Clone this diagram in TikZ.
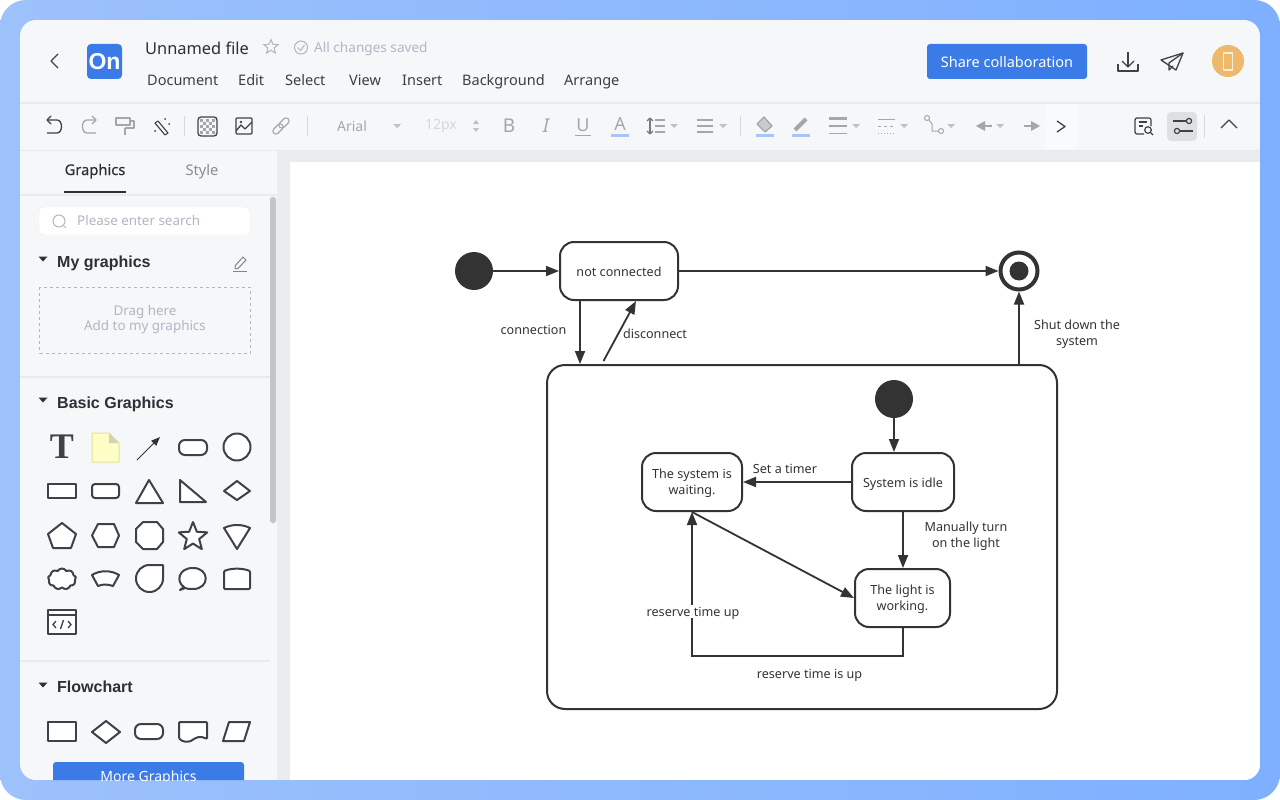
\documentclass[tikz,border=0pt]{standalone}
\usepackage{fontspec}
\setmainfont{Noto Sans}
\newfontfamily\serifbold{Liberation Serif}
\newfontfamily\headfont{Liberation Sans}
\newfontfamily\medfont{Noto Sans}[FakeBold=0.4]
\usetikzlibrary{arrows.meta,shapes.geometric,shapes.symbols}
\tikzset{
    statebox/.style={draw=cl_ink,line width=2pt,fill=white,rounded corners=14pt,align=center,text=cl_ink,font=\fontsize{12.6}{16}\selectfont,inner sep=0pt,text height=11pt,text depth=0pt},
    startdot/.style={circle,fill=cl_ink,minimum size=38pt,inner sep=0pt},
    arr/.style={-{Triangle[length=13pt,width=10pt]},line width=1.8pt,draw=cl_ink},
    edgelabel/.style={align=center,text=cl_ink,font=\fontsize{12.6}{16}\selectfont,inner sep=1pt,text height=11pt,text depth=0pt},
    twolines/.style={text height=25.5pt,text depth=0pt},
    menuitem/.style={anchor=base west,text=cl_menu,font=\fontsize{14.5}{17}\selectfont,inner sep=0pt},
    heading/.style={anchor=base west,text=cl_head,font=\fontsize{16}{18}\selectfont\headfont\bfseries,inner sep=0pt},
    hint/.style={text=cl_hint,font=\fontsize{13.4}{16}\selectfont,inner sep=0pt},
    darkicon/.style={draw=cl_icon,line width=1.3pt,line join=round},
    greyicon/.style={draw=cl_grey,line width=1.3pt,line join=round},
    palette/.style={draw=cl_icon,line width=2pt,fill=white,line join=round},
    sideline/.style={draw=cl_edge,line width=1.5pt},
    toolsep/.style={draw=cl_canvas!92!black,line width=1pt},
}
\begin{document}
\begin{tikzpicture}[x=1pt,y=-1pt]
            \definecolor{cl_ink}{HTML}{333333}
            \definecolor{cl_menu}{HTML}{3A3F47}
            \definecolor{cl_head}{HTML}{2B2F36}
            \definecolor{cl_hint}{HTML}{B0B6C3}
            \definecolor{cl_icon}{HTML}{3D4249}
            \definecolor{cl_grey}{HTML}{A3A6AB}
            \definecolor{cl_edge}{HTML}{E9EAED}
            \definecolor{cl_panel}{HTML}{F6F7F9}
            \definecolor{cl_canvas}{HTML}{EBECEE}
            \definecolor{cl_blue}{HTML}{3B7BE8}
            \definecolor{cl_bar}{HTML}{A9C4F5}
            \definecolor{cl_left}{HTML}{9DC1FB}
            \definecolor{cl_right}{HTML}{7EB0FF}
            \definecolor{cl_avatar}{HTML}{EDB96A}
            \useasboundingbox (0,0) rectangle (1280,800);
            \fill[white] (0,0) rectangle (1280,800);
            \shade[left color=cl_left,right color=cl_right,rounded corners=26pt] (0,0) rectangle (1280,800);
            \begin{scope}
            \clip[rounded corners=16pt] (20,20) rectangle (1260,780);
            \fill[cl_panel] (20,20) rectangle (1260,780);
            \fill[cl_canvas] (277,150) rectangle (1260,780);
            \fill[white] (290,162) rectangle (1260,780);
            \draw[sideline] (20,103) -- (1260,103);
            \draw[sideline] (20,150.5) -- (1260,150.5);

            \draw[darkicon] (58,54) -- (51,61) -- (58,68);
            \fill[cl_blue,rounded corners=4pt] (87,44) rectangle (122,79);
            \node[text=white,font=\fontsize{23}{26}\selectfont\headfont\bfseries,inner sep=0pt] (logo) at (104.5,62) {On};
            \node[anchor=base west,text=cl_head,font=\fontsize{16.4}{18}\selectfont,inner sep=0pt] (title) at (145,54.5) {Unnamed file};
            \node[star,star points=5,star point ratio=2.3,draw=cl_hint,line width=1pt,minimum size=15pt,inner sep=0pt] (favstar) at (271,47) {};
            \draw[draw=cl_hint,line width=1pt] (301,47.5) circle (6.5pt);
            \draw[draw=cl_hint,line width=1pt] (297.5,47.5) -- (300.5,50.5) -- (304.5,45);
            \node[hint,anchor=base west,font=\fontsize{13.6}{16}\selectfont] (saved) at (314,52.5) {All changes saved};
            \node[menuitem] (mdoc) at (147,85) {Document};
            \node[menuitem] (medit) at (238,85) {Edit};
            \node[menuitem] (mselect) at (285,85) {Select};
            \node[menuitem] (mview) at (349,85) {View};
            \node[menuitem] (minsert) at (402,85) {Insert};
            \node[menuitem] (mback) at (462,85) {Background};
            \node[menuitem] (marrange) at (564,85) {Arrange};

            \fill[cl_blue,rounded corners=3pt] (927,44) rectangle (1087,79);
            \node[text=white,font=\fontsize{14.5}{17}\selectfont,inner sep=0pt] (share) at (1007,62) {Share collaboration};
            \draw[darkicon] (1128,52) -- (1128,67);
            \draw[darkicon] (1122,61) -- (1128,67) -- (1134,61);
            \draw[darkicon] (1118,64) -- (1118,71) -- (1138,71) -- (1138,64);
            \draw[darkicon] (1161,60) -- (1183,53) -- (1176,70) -- cycle;
            \draw[darkicon] (1183,53) -- (1169,63) -- (1169,70) -- (1173,66);
            \fill[cl_avatar] (1228,61) circle (16pt);
            \draw[draw=white!75!cl_avatar,line width=1.2pt] (1223.5,53) rectangle (1232.5,70);

            \draw[darkicon] (47,120) -- (57,120) .. controls (63,120) and (63,133) .. (57,133) -- (47,133);
            \draw[darkicon] (51,116) -- (47,120) -- (51,124);
            \draw[greyicon] (96,120) -- (87,120) .. controls (81,120) and (81,133) .. (87,133) -- (96,133);
            \draw[greyicon] (92,116) -- (96,120) -- (92,124);
            \draw[greyicon] (116,118) rectangle (130,125);
            \draw[greyicon] (130,121) -- (134,121) -- (134,128) -- (125,128);
            \draw[draw=cl_grey,line width=2.5pt] (125,128) -- (125,135);
            \draw[darkicon,line width=1.1pt] (158,121) -- (168,133) -- (165,135) -- (155,123) -- cycle;
            \fill[cl_icon] (165,119) circle (1pt);
            \fill[cl_icon] (169,124) circle (1pt);
            \fill[cl_icon] (155,131) circle (1pt);
            \draw[toolsep] (184,116) -- (184,136);
            \foreach \i in {0,1,2,3,4}
                \foreach \j in {0,1,2,3,4} {
                    \pgfmathparse{int(mod(\i+\j,2))}
                    \ifnum\pgfmathresult=0
                        \fill[cl_grey] (200+3*\i,119+3*\j) rectangle +(3,3);
                    \fi
                }
            \draw[darkicon,rounded corners=3pt] (198,117) rectangle (217,136);
            \draw[darkicon,rounded corners=1pt] (236,118) rectangle (252,134);
            \draw[darkicon] (236,131) -- (241,125) -- (245,129) -- (252,122);
            \fill[cl_icon] (241,122) circle (1.3pt);
            \draw[greyicon,rounded corners=3pt,line width=1.1pt,rotate around={45:(278,129)}] (272,126) rectangle (284,132);
            \draw[greyicon,rounded corners=3pt,line width=1.1pt,rotate around={45:(284,123)}] (278,120) rectangle (290,126);
            \draw[toolsep] (307,116) -- (307,136);
            \node[text=cl_grey,font=\fontsize{14}{16}\selectfont,inner sep=0pt] (fontname) at (352,126) {Arial};
            \node[text=cl_hint!55!white,font=\fontsize{14}{16}\selectfont,inner sep=0pt] (fontsize) at (441,126) {12px};
            \foreach \x in {397,674,723,856,904,951,1000}
                \fill[cl_grey!70!white] (\x-4,124) -- (\x+4,124) -- (\x,128) -- cycle;
            \fill[cl_grey!70!white] (473,124) -- (479,124) -- (476,120) -- cycle;
            \fill[cl_grey!70!white] (473,128) -- (479,128) -- (476,132) -- cycle;
            \node[text=cl_grey,font=\fontsize{19}{20}\selectfont,inner sep=0pt] (bold) at (509,126) {B};
            \node[text=cl_grey,font=\fontsize{19}{20}\selectfont\itshape,inner sep=0pt] (italic) at (546,126) {I};
            \node[text=cl_grey,font=\fontsize{18}{20}\selectfont,inner sep=0pt] (under) at (583,125) {U};
            \draw[greyicon,line width=1pt] (575,135) -- (591,135);
            \node[text=cl_grey,font=\fontsize{18}{20}\selectfont,inner sep=0pt] (colour) at (620,124) {A};
            \fill[cl_bar] (611,134) rectangle (629,137);
            \draw[greyicon,line width=1.2pt,draw=cl_icon!70!white] (650,118) -- (650,134);
            \draw[greyicon,line width=1.2pt,draw=cl_icon!70!white] (647,121) -- (650,118) -- (653,121);
            \draw[greyicon,line width=1.2pt,draw=cl_icon!70!white] (647,131) -- (650,134) -- (653,131);
            \foreach \y in {120,126,132} {
                \draw[greyicon,line width=1.2pt] (655,\y) -- (665,\y);
                \draw[greyicon,line width=1.2pt] (697,\y) -- (713,\y);
            }
            \draw[toolsep] (740,116) -- (740,136);
            \draw[greyicon,fill=cl_grey!60!white] (757,124) -- (764,117) -- (772,126) -- (765,132) -- cycle;
            \fill[cl_bar] (756,134) rectangle (774,137);
            \draw[line width=4pt,draw=cl_grey] (795,130) -- (806,119);
            \fill[cl_bar] (792,134) rectangle (810,137);
            \draw[draw=cl_grey,line width=3pt] (829,118.5) -- (847,118.5);
            \draw[draw=cl_grey,line width=2pt] (829,126) -- (847,126);
            \draw[draw=cl_grey,line width=1pt] (829,133) -- (847,133);
            \draw[greyicon,line width=1pt] (878,119) -- (895,119);
            \draw[greyicon,line width=1pt,dashed] (878,126) -- (895,126);
            \draw[greyicon,line width=1pt,dotted] (878,133) -- (895,133);
            \draw[greyicon,line width=1pt] (927,118) circle (2.5pt);
            \draw[greyicon,line width=1pt] (941,131) circle (2.5pt);
            \draw[greyicon,line width=1pt] (929,120) -- (932,124) -- (932,131) -- (938,131);
            \fill[cl_grey] (976,126) -- (985,121) -- (985,131) -- cycle;
            \draw[greyicon] (985,126) -- (992,126);
            \fill[cl_grey] (1040,126) -- (1031,121) -- (1031,131) -- cycle;
            \draw[greyicon] (1024,126) -- (1031,126);
            \fill[white!35!cl_panel] (1045,104) rectangle (1078,149);
            \draw[darkicon] (1057,121) -- (1065,126.5) -- (1057,132);
            \draw[darkicon,line width=1.2pt,rounded corners=2pt] (1151,126) -- (1151,118) -- (1135,118) -- (1135,134) -- (1144,134);
            \draw[darkicon,line width=1.2pt] (1148,130) circle (3.3pt);
            \draw[darkicon,line width=1.2pt] (1150.5,132.5) -- (1153,135);
            \draw[darkicon,line width=1.2pt] (1139,122) -- (1147,122);
            \draw[darkicon,line width=1.2pt] (1139,126) -- (1143,126);
            \fill[cl_canvas!95!black,rounded corners=4pt] (1167,112) rectangle (1197,141);
            \draw[darkicon,line width=1.2pt] (1173,121) -- (1186,121);
            \draw[darkicon,line width=1.2pt] (1189,121) circle (2.6pt);
            \draw[darkicon,line width=1.2pt] (1177,131) circle (2.6pt);
            \draw[darkicon,line width=1.2pt] (1180,131) -- (1193,131);
            \draw[toolsep] (1204,115) -- (1204,138);
            \draw[darkicon] (1221,128) -- (1229,120) -- (1237,128);

            \node[anchor=base,text=cl_head,font=\fontsize{14.7}{17}\selectfont\medfont,inner sep=0pt] (tabgraphics) at (95,175) {Graphics};
            \node[anchor=base,text=cl_grey!85!black,font=\fontsize{14.7}{17}\selectfont,inner sep=0pt] (tabstyle) at (202,175) {Style};
            \draw[draw=cl_head,line width=2pt] (64,191.5) -- (126,191.5);
            \draw[sideline] (20,195) -- (277,195);
            \fill[cl_grey!65!white,rounded corners=2.5pt] (270,197) rectangle (276,523);
            \draw[draw=cl_edge,fill=white,rounded corners=4pt] (39,207) rectangle (250,235);
            \draw[draw=cl_hint,line width=1pt] (59,221) circle (6pt);
            \draw[draw=cl_hint,line width=1pt] (63.5,225.5) -- (66,228);
            \node[hint,anchor=base west] (searchtext) at (77,225.5) {Please enter search};
            \foreach \y in {259,400,685}
                \fill[cl_head] (38.5,\y-2.5) -- (47.5,\y-2.5) -- (43,\y+2.5) -- cycle;
            \node[heading] (mygraphics) at (57,267) {My graphics};
            \draw[darkicon,draw=cl_grey!80!black,line width=1pt] (235,266) -- (243,257) -- (246,260) -- (238,268.5) -- (235,268.5) -- cycle;
            \draw[darkicon,draw=cl_grey!80!black,line width=1pt] (233,271) -- (247,271);
            \draw[draw=cl_hint,line width=1pt,dashed] (39.5,287) rectangle (250,353);
            \node[hint,align=center] (dragtext) at (145,319.5) {Drag here\\[-0.5pt]Add to my graphics};
            \draw[sideline] (20,377) -- (270,377);
            \node[heading] (basicgraphics) at (57,408) {Basic Graphics};
            \draw[sideline] (20,661) -- (270,661);
            \node[heading] (flowchart) at (57,692) {Flowchart};

            \node[text=cl_icon,font=\fontsize{36}{36}\selectfont\serifbold\bfseries,inner sep=0pt] (ptext) at (62,447) {T};
            \draw[fill=cl_bar!10!yellow!25!white,draw=yellow!35!cl_panel!90!black,line width=1pt] (92,433) -- (109,433) -- (119,443) -- (119,462) -- (92,462) -- cycle;
            \fill[yellow!45!black!35!white] (109,433) -- (119,443) -- (109,443) -- cycle;
            \draw[-{Triangle[length=9pt,width=7pt]},line width=1pt,draw=cl_ink] (137,460) -- (160,437);
            \draw[palette,rounded corners=6pt] (179,440) rectangle (207,455);
            \draw[palette] (237,447) circle (13.5pt);
            \draw[palette] (48,484) rectangle (76,498);
            \draw[palette,rounded corners=3pt] (92,484) rectangle (119,498);
            \draw[palette] (149,480) -- (163,503) -- (136,503) -- cycle;
            \draw[palette] (180,480) -- (206,502) -- (180,502) -- cycle;
            \draw[palette] (237,481) -- (250,491) -- (237,500) -- (224,491) -- cycle;
            \draw[palette] (62,523) -- (76,534) -- (71,548) -- (53,548) -- (48,534) -- cycle;
            \draw[palette] (98,524) -- (114,524) -- (119,535.5) -- (114,547) -- (98,547) -- (92,535.5) -- cycle;
            \draw[palette] (143,522) -- (157,522) -- (163,529) -- (163,542) -- (157,549) -- (143,549) -- (136,542) -- (136,529) -- cycle;
            \node[palette,star,star points=5,star point ratio=2.3,minimum size=30pt,inner sep=0pt] (pstar) at (193,537) {};
            \draw[palette] (224,528) .. controls (232,524) and (242,524) .. (250,528) -- (237,549) -- cycle;
            \node[palette,cloud,cloud puffs=9,cloud puff arc=120,minimum width=28pt,minimum height=21pt,inner sep=0pt] (pcloud) at (62,579) {};
            \draw[palette] (92,575) .. controls (100,570) and (111,570) .. (119,575) -- (113,586) .. controls (107,584) and (103,584) .. (98,586) -- cycle;
            \draw[palette] (149.5,565) -- (163,565) -- (163,578.5) .. controls (163,586) and (157,592) .. (149.5,592) .. controls (142,592) and (136,586) .. (136,578.5) .. controls (136,571) and (142,565) .. (149.5,565) -- cycle;
            \draw[palette] (184,587) .. controls (176,582) and (178,568) .. (193,568) .. controls (210,568) and (210,589) .. (193,589) .. controls (190,589) and (187,589) .. (185,588) -- (180,590) -- cycle;
            \draw[palette,rounded corners=1pt] (224,571) .. controls (232,568) and (242,568) .. (250,571) -- (250,589) -- (224,589) -- cycle;
            \draw[palette] (48,610) rectangle (76,634);
            \draw[draw=cl_icon,line width=1.5pt] (48,615) -- (76,615);
            \draw[draw=cl_icon,line width=1.3pt] (56,621) -- (53,624.5) -- (56,628);
            \draw[draw=cl_icon,line width=1.3pt] (68,621) -- (71,624.5) -- (68,628);
            \draw[draw=cl_icon,line width=1.3pt] (63.5,620) -- (60.5,629);
            \draw[palette] (48,722) rectangle (76,741);
            \draw[palette] (106,721) -- (120,732) -- (106,743) -- (92,732) -- cycle;
            \draw[palette,rounded corners=6pt] (135,724) rectangle (163,739);
            \draw[palette,rounded corners=1pt] (179,722) -- (207,722) -- (207,739) .. controls (200,735) and (195,738) .. (191,741) .. controls (187,742) and (182,742) .. (179,738) -- cycle;
            \draw[palette] (229,722) -- (250,722) -- (244,741) -- (223,741) -- cycle;
            \fill[cl_blue,rounded corners=3pt] (53,762) rectangle (244,800);
            \node[anchor=base,text=white,font=\fontsize{14}{16}\selectfont,inner sep=0pt] (moregraphics) at (148.5,781) {More Graphics};
            \end{scope}

            \node[startdot] (start) at (474,271) {};
            \node[statebox,minimum width=118pt,minimum height=58pt] (notconn) at (619,271) {not connected};
            \node[circle,draw=cl_ink,line width=4pt,fill=white,minimum size=37pt,inner sep=0pt] (stop) at (1019,271) {};
            \node[startdot,minimum size=19pt] (stopdot) at (1019,271) {};
            \node[statebox,rounded corners=18pt,minimum width=510pt,minimum height=344pt] (system) at (802,537) {};
            \node[startdot] (inner) at (894,399) {};
            \node[statebox,minimum width=102pt,minimum height=58pt] (idle) at (903,482) {System is idle};
            \node[statebox,twolines,minimum width=100pt,minimum height=58pt] (waiting) at (692,482) {The system is\\waiting.};
            \node[statebox,twolines,minimum width=95pt,minimum height=58pt] (working) at (902.5,598) {The light is\\working.};
            \coordinate (connx) at (580,300);
            \coordinate (discfree) at (603.5,361);
            \coordinate (disctip) at (636,301);
            \coordinate (shutx) at (1019,330);
            \coordinate (innerx) at (894,430);
            \coordinate (backx) at (903,656);
            \draw[arr] (start) -- (notconn);
            \draw[arr] (notconn) -- (stop);
            \draw[arr] (notconn.south -| connx) -- (system.north -| connx);
            \draw[arr] (discfree) -- (disctip);
            \draw[arr] (system.north -| shutx) -- (stop);
            \draw[arr] (inner) -- (idle.north -| innerx);
            \draw[arr] (idle) -- (waiting);
            \draw[arr] (idle.south -| backx) -- (working.north -| backx);
            \draw[arr] (waiting.south) -- (working.west);
            \draw[arr] (working.south -| backx) -- (backx) -- (backx -| waiting) -- (waiting.south);
            \node[edgelabel] (lconn) at (533.5,329) {connection};
            \node[edgelabel] (ldisc) at (655,333) {disconnect};
            \node[edgelabel,twolines] (lshut) at (1077,333) {Shut down the\\system};
            \node[edgelabel] (ltimer) at (785,468) {Set a timer};
            \node[edgelabel,twolines] (lmanual) at (966,535) {Manually turn\\on the light};
            \node[edgelabel,fill=white] (lup) at (693,611) {reserve time up};
            \node[edgelabel] (lisup) at (809.5,673) {reserve time is up};
\end{tikzpicture}
\end{document}
